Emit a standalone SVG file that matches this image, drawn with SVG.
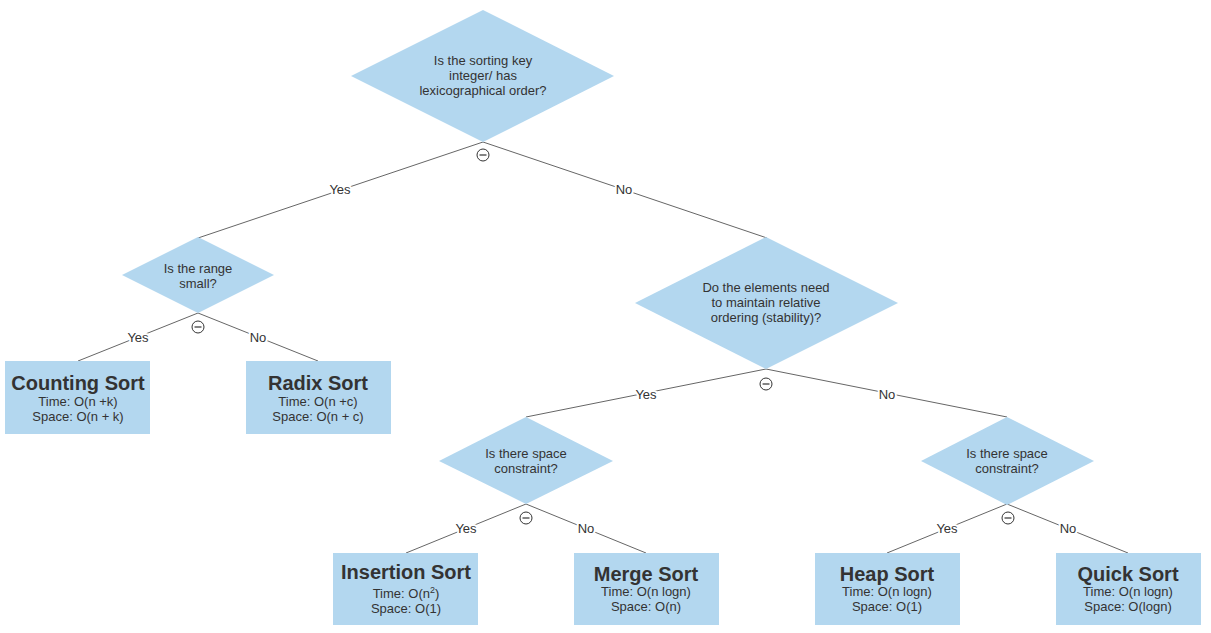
<svg xmlns="http://www.w3.org/2000/svg" width="1211" height="633" viewBox="0 0 1211 633">
<style>
.d{fill:#b3d7ef;stroke:none}
.b{fill:#b3d7ef;stroke:none}
text{font-family:"Liberation Sans",Arial,sans-serif;fill:#333;text-anchor:middle}
.q{font-size:13px}
.t{font-size:20px;font-weight:bold}
.s{font-size:13px}
.l{font-size:13px;paint-order:stroke;stroke:#fff;stroke-width:4px;stroke-linejoin:round}
.c{stroke:#666;stroke-width:1;fill:none}
.ic circle{fill:#fff;stroke:#333;stroke-width:1}
.ic line{stroke:#333;stroke-width:1.2}
</style>
<rect width="1211" height="633" fill="#fff"/>
<g id="connectors">
<path class="c" d="M483,142 L198,238"/>
<path class="c" d="M483,142 L767,238"/>
<path class="c" d="M198,313 L78,361"/>
<path class="c" d="M198,313 L318,361"/>
<path class="c" d="M766,369 L526,417"/>
<path class="c" d="M766,369 L1007,417"/>
<path class="c" d="M526,504 L406,553"/>
<path class="c" d="M526,504 L646,553"/>
<path class="c" d="M1007,504 L887,553"/>
<path class="c" d="M1007,504 L1128,553"/>
<text class="l" x="340" y="194">Yes</text>
<text class="l" x="624" y="194">No</text>
<text class="l" x="138" y="342">Yes</text>
<text class="l" x="258" y="342">No</text>
<text class="l" x="646" y="399">Yes</text>
<text class="l" x="887" y="399">No</text>
<text class="l" x="466" y="533">Yes</text>
<text class="l" x="586" y="533">No</text>
<text class="l" x="947" y="533">Yes</text>
<text class="l" x="1068" y="533">No</text>
</g>
<g id="n-root">
<polygon class="d" points="483,10 614,76 483,142 351,76"/>
<text class="q" x="483" y="65">Is the sorting key</text>
<text class="q" x="483" y="80">integer/ has</text>
<text class="q" x="483" y="95">lexicographical order?</text>
<g class="ic"><circle cx="483" cy="155" r="6"/><line x1="479.5" y1="155" x2="486.5" y2="155"/></g>
</g>
<g id="n-range">
<polygon class="d" points="198,237 274,275 198,313 122,275"/>
<text class="q" x="198" y="273">Is the range</text>
<text class="q" x="198" y="288">small?</text>
<g class="ic"><circle cx="198" cy="327" r="6"/><line x1="194.5" y1="327" x2="201.5" y2="327"/></g>
</g>
<g id="n-stability">
<polygon class="d" points="766,237 898,303 766,369 635,303"/>
<text class="q" x="766" y="292">Do the elements need</text>
<text class="q" x="766" y="307">to maintain relative</text>
<text class="q" x="766" y="322">ordering (stability)?</text>
<g class="ic"><circle cx="766" cy="384" r="6"/><line x1="762.5" y1="384" x2="769.5" y2="384"/></g>
</g>
<g id="n-space1">
<polygon class="d" points="526,417 613,461 526,504 439,461"/>
<text class="q" x="526" y="458">Is there space</text>
<text class="q" x="526" y="473">constraint?</text>
<g class="ic"><circle cx="526" cy="518" r="6"/><line x1="522.5" y1="518" x2="529.5" y2="518"/></g>
</g>
<g id="n-space2">
<polygon class="d" points="1007,417 1094,461 1007,505 921,461"/>
<text class="q" x="1007" y="458">Is there space</text>
<text class="q" x="1007" y="473">constraint?</text>
<g class="ic"><circle cx="1008" cy="518" r="6"/><line x1="1004.5" y1="518" x2="1011.5" y2="518"/></g>
</g>
<g id="n-counting">
<rect class="b" x="5" y="361" width="145" height="73"/>
<text class="t" x="78" y="390">Counting Sort</text>
<text class="s" x="78" y="406">Time: O(n +k)</text>
<text class="s" x="78" y="421">Space: O(n + k)</text>
</g>
<g id="n-radix">
<rect class="b" x="246" y="361" width="145" height="73"/>
<text class="t" x="318" y="390">Radix Sort</text>
<text class="s" x="318" y="406">Time: O(n +c)</text>
<text class="s" x="318" y="421">Space: O(n + c)</text>
</g>
<g id="n-insertion">
<rect class="b" x="333" y="553" width="145" height="72"/>
<text class="t" x="406" y="579">Insertion Sort</text>
<text class="s" x="406" y="598">Time: O(n<tspan font-size="9" dy="-5">2</tspan><tspan dy="5">)</tspan></text>
<text class="s" x="406" y="613">Space: O(1)</text>
</g>
<g id="n-merge">
<rect class="b" x="574" y="553" width="145" height="72"/>
<text class="t" x="646" y="581">Merge Sort</text>
<text class="s" x="646" y="596">Time: O(n logn)</text>
<text class="s" x="646" y="611">Space: O(n)</text>
</g>
<g id="n-heap">
<rect class="b" x="815" y="553" width="145" height="72"/>
<text class="t" x="887" y="581">Heap Sort</text>
<text class="s" x="887" y="596">Time: O(n logn)</text>
<text class="s" x="887" y="611">Space: O(1)</text>
</g>
<g id="n-quick">
<rect class="b" x="1056" y="553" width="145" height="72"/>
<text class="t" x="1128" y="581">Quick Sort</text>
<text class="s" x="1128" y="596">Time: O(n logn)</text>
<text class="s" x="1128" y="611">Space: O(logn)</text>
</g>
</svg>
